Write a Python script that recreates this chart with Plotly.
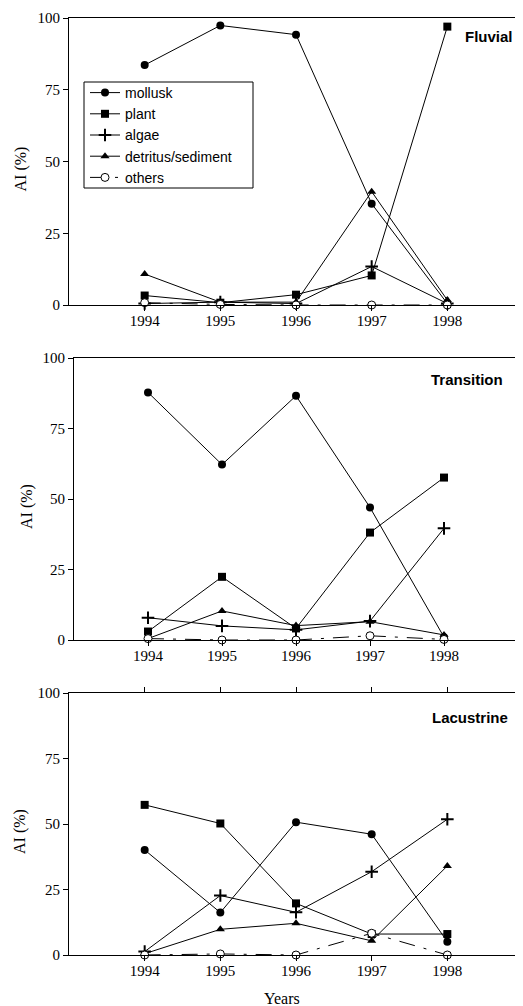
import plotly.graph_objects as go

years = [1994, 1995, 1996, 1997, 1998]
tick_years = ["1994", "1995", "1996", "1997", "1998"]
y_ticks = [0, 25, 50, 75, 100]
series_names = ["mollusk", "plant", "algae", "detritus/sediment", "others"]
panel_names = ["Fluvial", "Transition", "Lacustrine"]

# Fluvial
fluv_mollusk = [83.6, 97.4, 94.2, 35.3, 0.5]
fluv_plant = [3.3, 0.8, 3.6, 10.3, 97.0]
fluv_algae = [0.5, 1.0, 0.5, 13.4, 0.5]
fluv_detritus = [10.8, 1.0, 1.0, 39.5, 1.7]
fluv_others = [0.8, 0.2, 0.0, 0.0, 0.0]

# Transition
tran_mollusk = [87.8, 62.2, 86.6, 47.0, 1.0]
tran_plant = [3.0, 22.4, 4.1, 38.1, 57.6]
tran_algae = [7.9, 5.0, 3.6, 6.7, 39.6]
tran_detritus = [0.5, 10.3, 5.1, 6.5, 1.8]
tran_others = [0.5, 0.0, 0.0, 1.5, 0.2]

# Lacustrine
lacu_mollusk = [40.1, 16.2, 50.7, 46.1, 5.1]
lacu_plant = [57.3, 50.2, 19.7, 8.0, 8.0]
lacu_algae = [1.3, 22.7, 16.3, 31.8, 51.8]
lacu_detritus = [0.5, 9.8, 12.1, 5.4, 34.0]
lacu_others = [0.0, 0.4, 0.0, 8.3, 0.0]

panels = [
    [fluv_mollusk, fluv_plant, fluv_algae, fluv_detritus, fluv_others],
    [tran_mollusk, tran_plant, tran_algae, tran_detritus, tran_others],
    [lacu_mollusk, lacu_plant, lacu_algae, lacu_detritus, lacu_others],
]

# page body has an 8px margin, so the figure is sized to fit the window
OFF = 8
W, H = 523 - OFF, 1006 - OFF


def px(x):
    return (x - OFF) / W


def py(y):
    return 1 - (y - OFF) / H


SERIF = "Times New Roman, Liberation Serif, serif"
SANS = "Arial, Liberation Sans, sans-serif"

styles = [
    dict(marker=dict(symbol="circle", size=8, color="black"), line=dict(color="black", width=1)),
    dict(marker=dict(symbol="square", size=8, color="black"), line=dict(color="black", width=1)),
    dict(marker=dict(symbol="cross-thin", size=9, color="black", line=dict(color="black", width=2)), line=dict(color="black", width=1)),
    dict(marker=dict(symbol="triangle-up", size=8, color="black"), line=dict(color="black", width=1)),
    dict(marker=dict(symbol="circle", size=8, color="white", line=dict(color="black", width=1)), line=dict(color="black", width=1, dash="16px,9px,3px,9px")),
]

fig = go.Figure()
for p, data in enumerate(panels):
    axn = "" if p == 0 else str(p + 1)
    for s, vals in enumerate(data):
        fig.add_trace(go.Scatter(
            x=years, y=vals, mode="lines+markers", name=series_names[s],
            xaxis="x" + axn, yaxis="y" + axn,
            showlegend=(p == 0), cliponaxis=False, **styles[s]))

# panel geometry (window pixels)
geo = [
    dict(x0=69, x1=523, ytop=18, ybot=305, mirror=True, ymirror=False, ylab_x=20),
    dict(x0=74, x1=518, ytop=358, ybot=640, mirror=True, ymirror=True, ylab_x=27),
    dict(x0=69, x1=523, ytop=693, ybot=955, mirror="ticks", ymirror=False, ylab_x=20),
]

layout = {}
annotations = []
for p, g in enumerate(geo):
    axn = "" if p == 0 else str(p + 1)
    layout["xaxis" + axn] = dict(
        domain=[px(g["x0"]), min(1.0, px(g["x1"]))], range=[1993, 1999], anchor="y" + axn,
        tickmode="array", tickvals=years, ticktext=tick_years,
        ticks="outside", ticklen=5, tickcolor="black", tickwidth=1,
        showline=True, linecolor="black", linewidth=1, mirror=g["mirror"],
        showgrid=False, zeroline=False, ticklabelstandoff=-3, automargin=False,
        tickfont=dict(family=SERIF, size=15, color="black"))
    layout["yaxis" + axn] = dict(
        domain=[py(g["ybot"]), py(g["ytop"])], range=[0, 100], anchor="x" + axn,
        tickmode="array", tickvals=y_ticks,
        ticks="outside", ticklen=5, tickcolor="black", tickwidth=1,
        showline=True, linecolor="black", linewidth=1, mirror=g["ymirror"],
        showgrid=False, zeroline=False, automargin=False,
        tickfont=dict(family=SERIF, size=15, color="black"))
    annotations.append(dict(
        text="AI (%)", textangle=-90, xref="paper", yref="paper",
        x=px(g["ylab_x"]), y=py((g["ytop"] + g["ybot"]) / 2 + 8),
        showarrow=False, xanchor="center", yanchor="middle",
        font=dict(family=SERIF, size=16, color="black")))

title_pos = [(515, 37), (505, 379), (510, 717)]
for name, (tx, ty) in zip(panel_names, title_pos):
    annotations.append(dict(
        text="<b>%s</b>" % name, xref="paper", yref="paper",
        x=px(tx), y=py(ty), xanchor="right", yanchor="middle",
        showarrow=False, font=dict(family=SANS, size=15, color="black")))

annotations.append(dict(
    text="Years", xref="paper", yref="paper", x=px(282), y=py(998),
    xanchor="center", yanchor="middle", showarrow=False,
    font=dict(family=SERIF, size=16, color="black")))

legend_box = dict(
    type="rect", xref="paper", yref="paper",
    x0=px(84), x1=px(253), y0=py(188), y1=py(82),
    line=dict(color="black", width=1), fillcolor="white", layer="above")

fig.update_layout(
    width=W, height=H, margin=dict(l=0, r=0, t=0, b=0, autoexpand=False),
    paper_bgcolor="white", plot_bgcolor="white",
    annotations=annotations, shapes=[legend_box],
    legend=dict(x=px(85), y=py(77), xanchor="left", yanchor="top",
                bgcolor="rgba(0,0,0,0)", borderwidth=0,
                font=dict(family=SANS, size=14, color="black"),
                itemwidth=30, tracegroupgap=0),
    **layout)

fig.write_html("out.html")
